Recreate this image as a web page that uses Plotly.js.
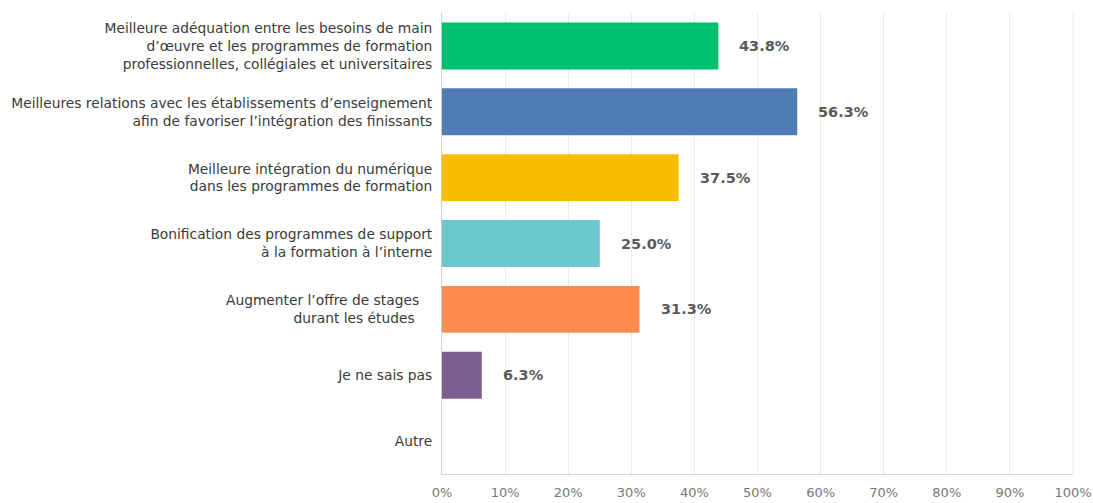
<!DOCTYPE html>
<html>
<head>
<meta charset="utf-8">
<script src="https://cdn.plot.ly/plotly-3.0.1.min.js"></script>
<style>html,body{margin:0;padding:0;background:#fff;}#chart{width:1093px;height:503px;}</style>
</head>
<body>
<div id="chart"></div>
<script>
const categories = [
  "Meilleure adéquation entre les besoins de main<br>d’œuvre et les programmes de formation<br>professionnelles, collégiales et universitaires",
  "Meilleures relations avec les établissements d’enseignement<br>afin de favoriser l’intégration des finissants",
  "Meilleure intégration du numérique<br>dans les programmes de formation",
  "Bonification des programmes de support<br>à la formation à l’interne",
  "Augmenter l’offre de stages\u00a0\u00a0\u00a0<br>durant les études\u00a0\u00a0\u00a0\u00a0",
  "Je ne sais pas",
  "Autre"
];
const values = [43.8, 56.3, 37.5, 25.0, 31.3, 6.3, 0];
const colors = ["#00BF6F", "#507CB6", "#F9BE00", "#6BC8CD", "#FF8B4F", "#7D5E90", "#999999"];
const xTickVals = [0, 10, 20, 30, 40, 50, 60, 70, 80, 90, 100];
const xTickText = ["0%", "10%", "20%", "30%", "40%", "50%", "60%", "70%", "80%", "90%", "100%"];

const trace = {
  type: "bar",
  orientation: "h",
  x: values,
  y: categories,
  marker: {color: colors},
  hoverinfo: "none"
};

const annotations = values.map((v, i) => v > 0 ? ({
  x: v, y: categories[i], xref: "x", yref: "y",
  text: v.toFixed(1) + "%",
  showarrow: false, xanchor: "left", yanchor: "middle", xshift: 19,
  font: {family: "DejaVu Sans, sans-serif", size: 14.5, color: "#5a5a5a", weight: "bold"}
}) : null).filter(a => a);

const layout = {
  width: 1093, height: 503,
  margin: {l: 442, r: 20, t: 13, b: 29},
  paper_bgcolor: "#ffffff", plot_bgcolor: "#ffffff",
  showlegend: false,
  bargap: 0.287,
  xaxis: {
    range: [0, 100], tickvals: xTickVals, ticktext: xTickText,
    showgrid: true, gridcolor: "#ebebeb", gridwidth: 1,
    zeroline: false, showline: true, linecolor: "#d6d6d6", linewidth: 1, mirror: false,
    ticks: "outside", ticklen: 6, tickcolor: "rgba(0,0,0,0)",
    ticklabeloverflow: "allow",
    tickfont: {family: "DejaVu Sans, sans-serif", size: 13, color: "#777777"},
    fixedrange: true
  },
  yaxis: {
    autorange: "reversed", type: "category",
    showgrid: false, zeroline: false, showline: true, linecolor: "#d0d0d0", linewidth: 1,
    ticks: "outside", ticklen: 6, tickcolor: "rgba(0,0,0,0)",
    tickfont: {family: "DejaVu Sans, sans-serif", size: 13.8, color: "#3a3a3a"},
    fixedrange: true
  },
  annotations: annotations,
  shapes: [{type: "line", xref: "paper", yref: "paper", x0: 1, x1: 1, y0: 0, y1: 1, line: {color: "#ebebeb", width: 1}}]
};

Plotly.newPlot("chart", [trace], layout, {displayModeBar: false, staticPlot: true});
</script>
</body>
</html>
